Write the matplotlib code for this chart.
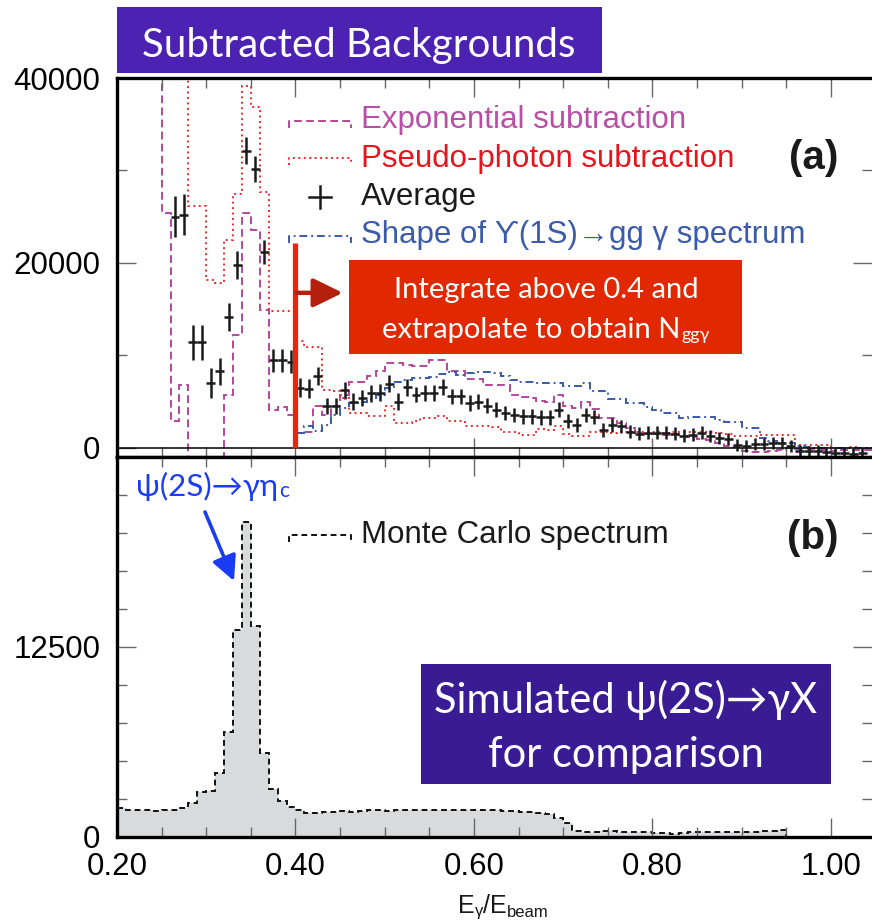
import matplotlib
matplotlib.use("Agg")
import matplotlib.pyplot as plt
from matplotlib.patches import Rectangle, FancyArrowPatch
from matplotlib.lines import Line2D
from matplotlib.ticker import MultipleLocator, FixedLocator, FormatStrFormatter
import numpy as np

W, H = 872, 924
BIN = 0.01

# ---- panel (a): average of the two subtractions (bin centres, counts, errors)
avg_x = [0.265, 0.275, 0.285, 0.295, 0.305, 0.315, 0.325, 0.335, 0.345, 0.355,
         0.365, 0.375, 0.385, 0.395, 0.405, 0.415, 0.425, 0.435, 0.445, 0.455,
         0.465, 0.475, 0.485, 0.495, 0.505, 0.515, 0.525, 0.535, 0.545, 0.555,
         0.565, 0.575, 0.585, 0.595, 0.605, 0.615, 0.625, 0.635, 0.645, 0.655,
         0.665, 0.675, 0.685, 0.695, 0.705, 0.715, 0.725, 0.735, 0.745, 0.755,
         0.765, 0.775, 0.785, 0.795, 0.805, 0.815, 0.825, 0.835, 0.845, 0.855,
         0.865, 0.875, 0.885, 0.895, 0.905, 0.915, 0.925, 0.935, 0.945, 0.955,
         0.965, 0.975, 0.985, 0.995, 1.005, 1.015, 1.025, 1.035]
avg_y = [25000, 25200, 11400, 11400, 7000, 8250, 14150, 19800, 32150, 30200,
         21200, 9450, 9450, 9300, 6500, 6400, 7750, 4500, 4500, 6200,
         5000, 5400, 5900, 5950, 6950, 5000, 6550, 5750, 5900, 5900,
         6550, 5550, 5550, 4850, 5000, 4550, 4100, 3750, 3550, 3400,
         3400, 3300, 3300, 4100, 2850, 2500, 3550, 3300, 1950, 2500,
         2300, 1750, 1500, 1600, 1600, 1600, 1500, 1300, 1400, 1600,
         1300, 1050, 950, 300, 150, 450, 450, 500, 500, 150,
         -300, -400, -300, -500, -600, -600, -650, -600]
avg_err = [2200, 2200, 1900, 1900, 1600, 1500, 1500, 1500, 1500, 1400,
           1300, 1250, 1250, 1250, 1000, 1000, 1000, 900, 900, 900,
           900, 900, 900, 900, 900, 900, 900, 850, 850, 850,
           850, 850, 850, 850, 800, 800, 800, 800, 800, 800,
           800, 800, 800, 800, 750, 750, 750, 750, 750, 750,
           700, 700, 700, 700, 700, 700, 700, 700, 700, 700,
           650, 650, 650, 650, 650, 650, 650, 650, 650, 650,
           600, 600, 600, 600, 600, 600, 600, 600]

# exponential subtraction, bins of 0.01 starting at 0.24
exp_start = 0.24
exp_y = [50000, 25400, 2850, 6800, -5000, -5000, -5000, -5000, 5730, 12200,
         25400, 23600, 14900, 4100, 4400, 3500, 1650, 1700, 4500, 3550,
         4500, 5700, 7150, 7150, 7800, 8350, 9200, 9200, 8950, 8800,
         8800, 9450, 9450, 8250, 8250, 7450, 7450, 6800, 6800, 6800,
         5700, 5500, 5350, 5100, 5000, 5700, 4500, 4300, 5000, 4200,
         3200, 3200, 2700, 2100, 1600, 1500, 1500, 1400, 1500, 1300,
         1200, 1000, 850, 500, 150, 100, -300, -450, -450, -300,
         -200, -50, -100, -150, -100, -200, -300, -250, -200, -200, -250]

# pseudo-photon subtraction, bins of 0.01 starting at 0.27
pseudo_start = 0.27
pseudo_y = [50000, 26200, 26200, 18200, 17800, 22500, 27500, 39100, 36900, 27700,
            14800, 14800, 14800, 11500, 10950, 10950, 6300, 6100, 5400, 3800,
            3800, 3450, 3450, 4500, 2700, 2700, 2900, 3250, 3250, 3450,
            2900, 2900, 2400, 2400, 2400, 2200, 1750, 1750, 1400, 1400,
            2000, 1950, 2300, 1500, 1250, 1250, 1750, 1750, 1600, 1700,
            1700, 1700, 1750, 1700, 1650, 1700, 1750, 1700, 1750, 1700,
            1600, 1500, 1300, 1300, 1300, 1400, 1400, 1400, 1350, 320,
            320, 320, 300, 0, 0, 50, 0, 0]

# shape of Upsilon(1S) -> gg gamma, bins of 0.01 starting at 0.40
shape_start = 0.40
shape_y = [1600, 2400, 1800, 2500, 3500, 4300, 4850, 5000, 5250, 5700,
           6500, 7150, 7300, 7550, 7550, 7700, 8000, 8200, 7900, 8100,
           8200, 8200, 8100, 7800, 7350, 7150, 7150, 7000, 7000, 7000,
           6700, 6700, 7000, 6100, 6100, 5250, 5250, 4850, 4850, 4400,
           4100, 3800, 3800, 3200, 3300, 3300, 3300, 3000, 2750, 2750,
           2150, 2150, 1100, 700, 550, 550, 200, 100, 0, 0,
           0, 0, 0, 0, 0]

# ---- panel (b): Monte Carlo spectrum, bins of 0.01 starting at 0.20
mc_start = 0.20
mc_y = [1900, 1780, 1780, 1780, 1680, 1780, 1780, 1900, 2230, 2950,
        3000, 4200, 6900, 13650, 20750, 13900, 5550, 3150, 2350, 2000,
        1800, 1600, 1600, 1650, 1650, 1700, 1650, 1700, 1750, 1750,
        1700, 1750, 1800, 1800, 1750, 1800, 1800, 1750, 1800, 1800,
        1750, 1750, 1750, 1700, 1700, 1650, 1650, 1600, 1500, 1250,
        900, 380, 360, 360, 380, 380, 330, 300, 300, 300,
        250, 250, 230, 250, 300, 330, 330, 300, 300, 330,
        360, 360, 400, 400, 430]

top_ticks = [0, 20000, 40000]
bottom_ticks = [0, 12500]
cut_x = 0.40
cut_height = 22200

MAGENTA = "#b5479c"
RED = "#ee2a2a"
BLUE = "#3a5aa8"
GILL = ["Lato", "DejaVu Sans"]

plt.rcParams["font.family"] = ["Liberation Sans", "DejaVu Sans"]


def edges(start, vals):
    return np.round(start + BIN * np.arange(len(vals) + 1), 3)


def fx(px):
    return px / W


def fy(py):
    return 1 - py / H


def style_axes(ax):
    for side in ("left", "top", "bottom"):
        ax.spines[side].set_linewidth(2.4)
    ax.spines["right"].set_visible(False)
    ax.set_xlim(0.2, 1.046)
    ax.xaxis.set_major_locator(MultipleLocator(0.2))
    ax.xaxis.set_minor_locator(MultipleLocator(0.05))
    ax.xaxis.set_major_formatter(FormatStrFormatter("%.2f"))
    ax.tick_params(which="both", direction="in", top=True, right=True,
                   color="#666666", width=1.0)
    ax.tick_params(which="major", length=14)
    ax.tick_params(which="minor", length=7)
    ax.tick_params(axis="y", labelsize=22.5, pad=12)
    ax.tick_params(axis="x", labelsize=22.5, pad=11)


fig = plt.figure(figsize=(W / 100, H / 100), dpi=100)
ax1 = fig.add_axes([fx(117), fy(457), (W - 117) / W, (457 - 78) / H])
ax2 = fig.add_axes([fx(117), fy(837), (W - 117) / W, (837 - 457) / H])

# ---------------- panel (a)
style_axes(ax1)
ax1.set_ylim(-1000, 40000)
ax1.yaxis.set_major_locator(FixedLocator(top_ticks))
ax1.yaxis.set_minor_locator(MultipleLocator(10000))
ax1.tick_params(axis="x", labelbottom=False)
ax1.axhline(0, color="black", lw=1.1)

ax1.stairs(exp_y, edges(exp_start, exp_y), baseline=None, color=MAGENTA,
           lw=1.4, linestyle=(0, (4, 2.2)))
ax1.stairs(pseudo_y, edges(pseudo_start, pseudo_y), baseline=None, color=RED,
           lw=1.4, linestyle=(0, (1, 1.8)))
ax1.stairs(shape_y, edges(shape_start, shape_y), baseline=0, color=BLUE,
           lw=1.4, linestyle=(0, (4, 2, 1, 2)))
ax1.errorbar(avg_x, avg_y, yerr=avg_err, xerr=BIN / 2, fmt="none",
             ecolor="#1a1a1a", elinewidth=1.8, capsize=0)

ax1.plot([cut_x, cut_x], [0, cut_height], color="#e8260e", lw=3.8,
         solid_capstyle="butt")
ax1.annotate("", xy=(0.453, 16760), xytext=(cut_x + 0.001, 16760),
             arrowprops=dict(arrowstyle="-|>,head_length=0.45,head_width=0.22",
                             mutation_scale=40, lw=3.2, color="#b3200e",
                             shrinkA=0, shrinkB=0))

# ---------------- panel (b)
style_axes(ax2)
ax2.set_ylim(0, 25000)
ax2.yaxis.set_major_locator(FixedLocator(bottom_ticks))
ax2.yaxis.set_minor_locator(MultipleLocator(2500))
ax2.stairs(mc_y, edges(mc_start, mc_y), fill=True, color="#d9dadc")
ax2.stairs(mc_y, edges(mc_start, mc_y), baseline=0, color="#111111", lw=1.4,
           linestyle=(0, (3, 2)))

renderer = fig.canvas.get_renderer()


def legend_line(py, color, ls):
    fig.add_artist(Line2D([fx(289), fx(289), fx(351), fx(351)],
                          [fy(py + 7), fy(py), fy(py), fy(py + 7)],
                          color=color, lw=1.4, linestyle=ls))


def text_run(pieces, x, base_py, color, family, center=True, gap=1):
    arts = []
    for s, size, dy in pieces:
        arts.append(fig.text(0, fy(base_py + dy), s, fontsize=size, color=color,
                             family=family, va="baseline", ha="left"))
    widths = [a.get_window_extent(renderer).width for a in arts]
    total = sum(widths) + gap * (len(arts) - 1)
    px = x - total / 2 if center else x
    for a, w in zip(arts, widths):
        a.set_x(fx(px))
        px += w + gap
    return arts


LEG = 22.5

# legend of panel (a)
legend_line(121, MAGENTA, (0, (4, 2.2)))
fig.text(fx(361), fy(128), "Exponential subtraction", fontsize=LEG,
         color="#b84fa6", va="baseline")
legend_line(158, RED, (0, (1, 1.8)))
fig.text(fx(361), fy(167), "Pseudo-photon subtraction", fontsize=LEG,
         color="#e8141c", va="baseline")
fig.add_artist(Line2D([fx(309), fx(331)], [fy(197), fy(197)], color="#1a1a1a", lw=1.8))
fig.add_artist(Line2D([fx(320), fx(320)], [fy(186), fy(208)], color="#1a1a1a", lw=1.8))
fig.text(fx(361), fy(205), "Average", fontsize=LEG, color="#1a1a1a", va="baseline")
legend_line(236, BLUE, (0, (4, 2, 1, 2)))
fig.text(fx(361), fy(243), "Shape of \u03d2(1S)\u2192gg \u03b3 spectrum", fontsize=LEG,
         color="#3b5baa", va="baseline")
fig.text(fx(838), fy(169), "(a)", fontsize=29, fontweight="bold", ha="right",
         va="baseline", color="#1a1a1a")

# legend of panel (b)
legend_line(535, "#111111", (0, (3, 2)))
fig.text(fx(361), fy(543), "Monte Carlo spectrum", fontsize=LEG, color="#1a1a1a",
         va="baseline")
fig.text(fx(838), fy(549), "(b)", fontsize=29, fontweight="bold", ha="right",
         va="baseline", color="#1a1a1a")

# title banner
fig.add_artist(Rectangle((fx(117), fy(73)), (602 - 117) / W, (73 - 7) / H,
                         transform=fig.transFigure, color="#4b22b1", lw=0))
fig.text(fx(359), fy(57), "Subtracted Backgrounds", fontsize=29, color="white",
         family=GILL, ha="center", va="baseline")

# red annotation box
fig.add_artist(Rectangle((fx(349), fy(354)), (742 - 349) / W, (354 - 260) / H,
                         transform=fig.transFigure, color="#e12800", lw=0))
fig.text(fx(546), fy(298), "Integrate above 0.4 and", fontsize=21, color="white",
         family=GILL, ha="center", va="baseline")
text_run([("extrapolate to obtain N", 21, 0), ("gg\u03b3", 13, 2)], 546, 338,
         "white", GILL)

# simulated box
fig.add_artist(Rectangle((fx(421), fy(784)), (831 - 421) / W, (784 - 664) / H,
                         transform=fig.transFigure, color="#391b94", lw=0))
fig.text(fx(626), fy(713), "Simulated \u03c8(2S)\u2192\u03b3X", fontsize=30,
         color="white", family=GILL, ha="center", va="baseline")
fig.text(fx(626), fy(767), "for comparison", fontsize=30, color="white",
         family=GILL, ha="center", va="baseline")

# eta_c label and arrow
text_run([("\u03c8(2S)\u2192\u03b3\u03b7", 22.5, 0), ("c", 15, 1)], 136, 496,
         "#1a3cf5", GILL, center=False)
fig.add_artist(FancyArrowPatch(
    (fx(205), fy(512)), (fx(234), fy(581)), transform=fig.transFigure,
    arrowstyle="-|>,head_length=0.5,head_width=0.25", mutation_scale=30,
    lw=2.6, color="#1a3cf5", shrinkA=0, shrinkB=0))

# x axis label
text_run([("E", 18, 0), ("\u03b3", 12, 3), ("/E", 18, 0), ("beam", 12, 4)],
         503, 913, "#1a1a1a", ["Liberation Sans", "DejaVu Sans"], gap=0)

fig.savefig("out.png", dpi=100)
